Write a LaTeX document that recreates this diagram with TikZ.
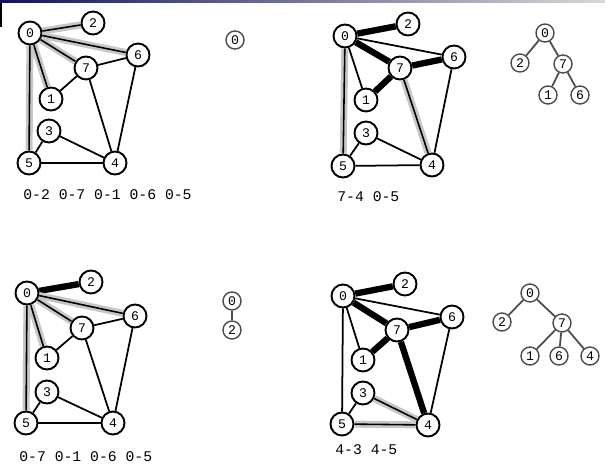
\documentclass[tikz,border=0pt]{standalone}
\usepackage{fontspec}
\setmonofont{Liberation Mono}
\usetikzlibrary{positioning}

\tikzset{
  vtx/.style={circle,draw,line width=1.1pt,minimum size=0.46cm,inner sep=0pt,
    font=\ttfamily\fontsize{7.5}{8}\selectfont},
  tvtx/.style={circle,draw=black!70,line width=0.8pt,minimum size=0.36cm,inner sep=0pt,
    font=\ttfamily\fontsize{7.5}{8}\selectfont},
  gedge/.style={line width=1pt},
  tedge/.style={line width=3.6pt},
  fedge/.style={line width=0.9pt,preaction={draw,black!22,line width=4pt}},
  sedge/.style={black!70,line width=1pt},
  seq/.style={anchor=west,inner sep=0pt,font=\ttfamily\fontsize{8.4}{10}\selectfont}
}

\begin{document}
\begin{tikzpicture}[x=0.02cm,y=-0.02cm]
        \useasboundingbox (0,0) rectangle (605,475);
        % top bar
        \shade[left color={rgb,255:red,20;green,20;blue,80},right color=black!15] (0,0) rectangle (605,3);
        \fill[black] (0,3) rectangle (2,27);

        % panel 1: start at 0
        \foreach \n/\x/\y in {0/30/33,1/51/99,2/93/23,3/49/131,4/115/163,5/29/163,6/138/55,7/86/68}
          \node[vtx] (a\n) at (\x,\y) {\n};
        \foreach \u/\v/\s in {0/2/fedge,0/7/fedge,0/1/fedge,0/6/fedge,0/5/fedge,7/1/gedge,7/6/gedge,
                              7/4/gedge,6/4/gedge,3/5/gedge,3/4/gedge,5/4/gedge}
          \draw[\s] (a\u) -- (a\v);
        \node[seq] (la) at (23,195) {0-2 0-7 0-1 0-6 0-5};
        \node[tvtx] (ta0) at (235,40) {0};

        % panel 2
        \foreach \n/\x/\y in {0/345/36,1/366/100,2/408/24,3/366/133,4/432/165,5/343/166,6/454/57,7/400/68}
          \node[vtx] (b\n) at (\x,\y) {\n};
        \foreach \u/\v/\s in {0/2/tedge,0/7/tedge,0/1/gedge,0/6/gedge,0/5/fedge,7/1/tedge,7/6/tedge,
                              7/4/fedge,6/4/gedge,3/5/gedge,3/4/gedge,5/4/gedge}
          \draw[\s] (b\u) -- (b\v);
        \node[seq] (lb) at (337,197) {7-4 0-5};
        \foreach \n/\x/\y in {0/545/33,2/520/63,7/563/64,1/548/95,6/580/95}
          \node[tvtx] (tb\n) at (\x,\y) {\n};
        \foreach \u/\v in {0/2,0/7,7/1,7/6}
          \draw[sedge] (tb\u) -- (tb\v);

        % panel 3
        \foreach \n/\x/\y in {0/27/293,1/47/358,2/91/282,3/47/392,4/113/423,5/26/423,6/135/316,7/82/328}
          \node[vtx] (c\n) at (\x,\y) {\n};
        \foreach \u/\v/\s in {0/2/tedge,0/7/fedge,0/1/fedge,0/6/fedge,0/5/fedge,7/1/gedge,7/6/gedge,
                              7/4/gedge,6/4/gedge,3/5/gedge,3/4/gedge,5/4/gedge}
          \draw[\s] (c\u) -- (c\v);
        \node[seq] (lc) at (19,457) {0-7 0-1 0-6 0-5};
        \node[tvtx] (tc0) at (232,301) {0};
        \node[tvtx] (tc2) at (232,330) {2};
        \draw[sedge] (tc0) -- (tc2);

        % panel 4
        \foreach \n/\x/\y in {0/343/296,1/363/360,2/405/284,3/363/393,4/428/425,5/342/424,6/452/317,7/397/330}
          \node[vtx] (d\n) at (\x,\y) {\n};
        \foreach \u/\v/\s in {0/2/tedge,0/7/tedge,0/1/gedge,0/6/gedge,0/5/gedge,7/1/tedge,7/6/tedge,
                              7/4/tedge,6/4/gedge,3/5/gedge,4/3/fedge,4/5/fedge}
          \draw[\s] (d\u) -- (d\v);
        \node[seq] (ld) at (335,450) {4-3 4-5};
        \foreach \n/\x/\y in {0/530/293,2/502/322,7/562/323,1/530/356,6/559/356,4/590/356}
          \node[tvtx] (td\n) at (\x,\y) {\n};
        \foreach \u/\v in {0/2,0/7,7/1,7/6,7/4}
          \draw[sedge] (td\u) -- (td\v);
      \end{tikzpicture}
\end{document}
